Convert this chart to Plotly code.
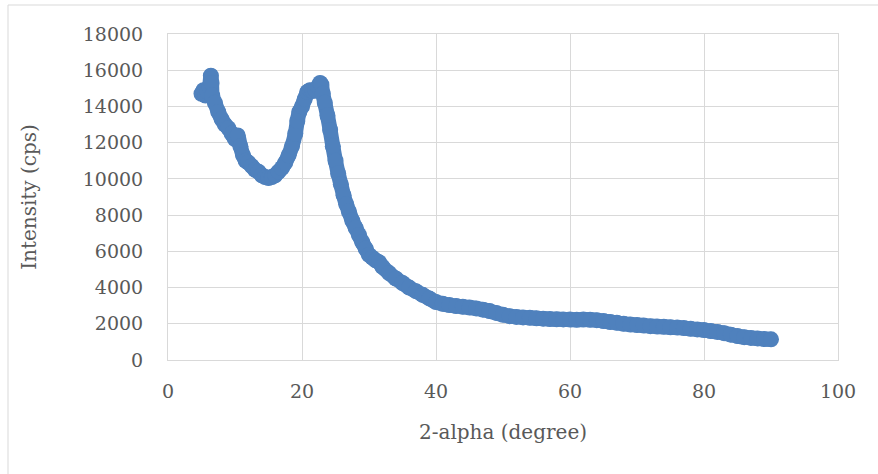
import plotly.graph_objects as go

# 2-alpha (degree)
two_alpha = [5.0, 5.3, 5.6, 5.9, 6.2, 6.4, 6.5, 6.6, 7.0, 7.5, 8.0, 8.5, 9.0, 9.5, 10.0, 10.4,
             10.8, 11.2, 11.6, 12.0, 12.5, 13.0, 13.5, 14.0, 14.5, 15.0, 15.5, 16.0, 16.5, 17.0,
             17.5, 18.0, 18.5, 19.0, 19.3, 19.6, 20.0, 20.4, 20.8, 21.2, 21.6, 22.0, 22.4, 22.7,
             22.9, 23.1, 23.4, 23.8, 24.2, 24.6, 25.0, 25.4, 25.8, 26.2, 26.6, 27.0, 27.5, 28.0, 28.5,
             29.0, 29.5, 30.0, 30.5, 31.0, 31.5, 32.0, 33.0, 34.0, 35.0, 36.0, 37.0, 38.0, 39.0,
             40.0, 41.0, 42.0, 43.0, 44.0, 45.0, 46.0, 47.0, 48.0, 49.0, 50.0, 51.0, 52.0, 53.0,
             54.0, 55.0, 56.0, 57.0, 58.0, 59.0, 60.0, 61.0, 62.0, 63.0, 64.0, 65.0, 66.0, 67.0,
             68.0, 69.0, 70.0, 71.0, 72.0, 73.0, 74.0, 75.0, 76.0, 77.0, 78.0, 79.0, 80.0, 81.0,
             82.0, 83.0, 84.0, 85.0, 86.0, 87.0, 88.0, 89.0, 90.0]

# Intensity (cps)
intensity = [14700, 14900, 14600, 14800, 15100, 15700, 15300, 14600, 14200, 13700, 13300, 13000,
             12800, 12500, 12200, 12400, 11800, 11300, 11000, 10900, 10700, 10500, 10400, 10200,
             10100, 10050, 10100, 10200, 10400, 10600, 10900, 11300, 11800, 12500, 13200, 13700,
             14000, 14400, 14800, 14900, 14850, 14900, 15100, 15300, 15200, 14700, 14200, 13500,
             12700, 11800, 11000, 10300, 9700, 9100, 8600, 8200, 7700, 7300, 6900, 6500, 6150, 5800,
             5650, 5500, 5400, 5150, 4800, 4500, 4250, 4000, 3800, 3600, 3400, 3200, 3100, 3030,
             2980, 2940, 2900, 2850, 2780, 2700, 2600, 2500, 2420, 2380, 2350, 2330, 2300, 2280,
             2260, 2250, 2240, 2230, 2220, 2230, 2220, 2200, 2150, 2100, 2050, 2000, 1960, 1930,
             1900, 1870, 1850, 1830, 1810, 1790, 1760, 1720, 1690, 1650, 1600, 1550, 1480, 1400,
             1320, 1260, 1220, 1190, 1160, 1140]

x_ticks = [0, 20, 40, 60, 80, 100]
y_ticks = [0, 2000, 4000, 6000, 8000, 10000, 12000, 14000, 16000, 18000]

BLUE = "#4F81BD"
GRID = "#D9D9D9"
TXT = "#595959"
FONT = "DejaVu Serif"

fig = go.Figure()
fig.add_trace(go.Scatter(
    x=two_alpha, y=intensity, mode="lines+markers",
    line=dict(color=BLUE, width=15, shape="spline", smoothing=0.6),
    marker=dict(color=BLUE, size=16),
    showlegend=False, hoverinfo="x+y",
))

fig.update_layout(
    width=878, height=474,
    margin=dict(l=168, r=40, t=34, b=114),
    paper_bgcolor="white", plot_bgcolor="white",
    font=dict(family=FONT, color=TXT, size=19),
    xaxis=dict(
        range=[0, 100], tickvals=x_ticks, ticktext=[str(v) for v in x_ticks],
        showgrid=True, gridcolor=GRID, gridwidth=1,
        showline=True, linecolor=GRID, linewidth=1, mirror=True,
        zeroline=False, ticks="", ticklabelstandoff=14,
        tickfont=dict(family=FONT, size=19, color=TXT),
        title=dict(text="2-alpha (degree)", font=dict(family=FONT, size=20, color=TXT), standoff=24),
    ),
    yaxis=dict(
        range=[0, 18000], tickvals=y_ticks, ticktext=[str(v) for v in y_ticks],
        showgrid=True, gridcolor=GRID, gridwidth=1,
        showline=True, linecolor=GRID, linewidth=1, mirror=True,
        zeroline=False, ticks="", ticklabelstandoff=20,
        tickfont=dict(family=FONT, size=19, color=TXT),
        title=dict(text="Intensity (cps)", font=dict(family=FONT, size=20, color=TXT), standoff=40),
    ),
    shapes=[dict(type="rect", xref="paper", yref="paper",
                 x0=(8 - 168) / 670, x1=(890 - 168) / 670,
                 y0=(360 - 490) / 326, y1=(360 - 5) / 326,
                 line=dict(color=GRID, width=1), fillcolor="rgba(0,0,0,0)", layer="below")],
)

fig.write_html("out.html")
